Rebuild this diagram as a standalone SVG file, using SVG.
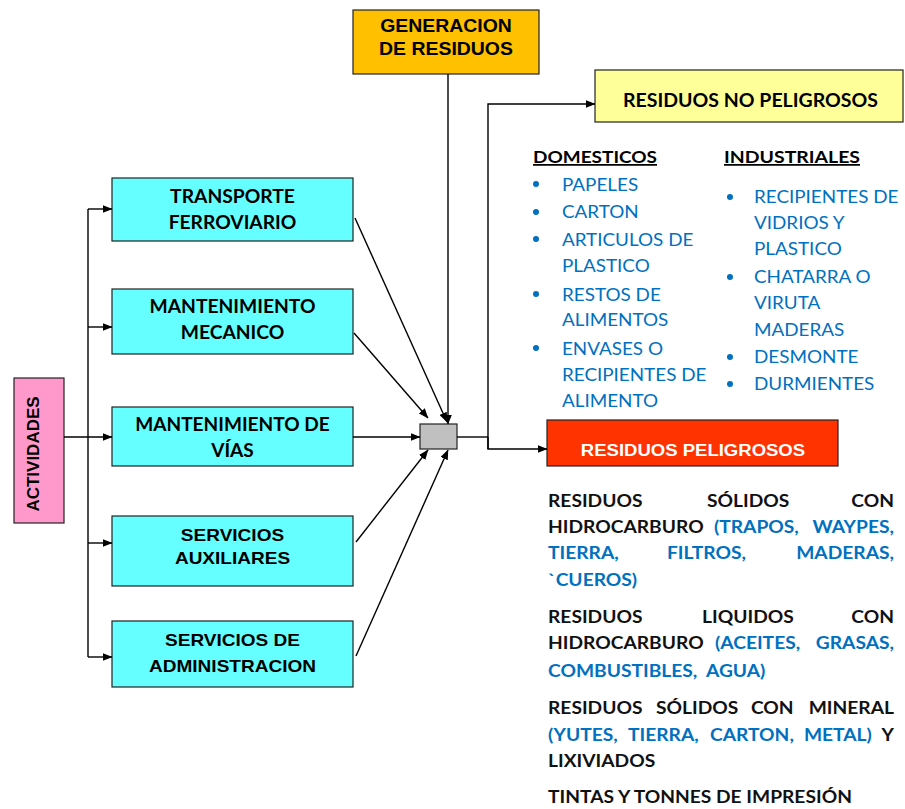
<svg xmlns="http://www.w3.org/2000/svg" width="905" height="809" viewBox="0 0 905 809">
<style>
  .box{stroke:#222;stroke-width:1.2}
  .cyan{fill:#66FFFF}
  .ln{stroke:#000;stroke-width:1.4;fill:none}
  .arr{marker-end:url(#ah)}
  .cal{font-family:Lato,"Open Sans","Liberation Sans",sans-serif}
  .ari{font-family:"Liberation Sans",Arial,sans-serif;font-weight:bold}
  .b{font-weight:bold}
  .blue{fill:#0070C0}
  .blk{fill:#111}
  .ct{text-anchor:middle}
  .end{text-anchor:end}
  .p{font-family:Lato,"Open Sans","Liberation Sans",sans-serif;font-weight:bold;font-size:17px}
  .li{font-family:Lato,"Open Sans","Liberation Sans",sans-serif;font-size:17px;fill:#0070C0}
</style>
<defs>
  <marker id="ah" markerWidth="10" markerHeight="8" refX="9.5" refY="4" orient="auto" markerUnits="userSpaceOnUse">
    <path d="M0,0 L10,4 L0,8 z" fill="#000"/>
  </marker>
</defs>

<g id="generacion">
  <rect class="box" x="353" y="10" width="186" height="64" fill="#FFC000"/>
  <g transform="matrix(1.08 0 0 1 -35.68 0)">
    <text class="ari ct" x="446" y="32" font-size="18">GENERACION</text>
    <text class="ari ct" x="446" y="55" font-size="18">DE RESIDUOS</text>
  </g>
</g>

<g id="actividades">
  <rect class="box" x="14" y="378" width="50" height="145" fill="#FF99CC"/>
  <text class="ari ct" font-size="17" transform="translate(39,454) rotate(-90)">ACTIVIDADES</text>
</g>

<g id="transporte">
  <rect class="box cyan" x="112" y="178" width="241" height="63"/>
  <g transform="matrix(1.07 0 0 1 -16.275 0)">
    <text class="cal b ct" x="232.5" y="203" font-size="18">TRANSPORTE</text>
    <text class="cal b ct" x="232.5" y="229" font-size="18">FERROVIARIO</text>
  </g>
</g>

<g id="mecanico">
  <rect class="box cyan" x="112" y="289" width="241" height="65"/>
  <g transform="matrix(1.07 0 0 1 -16.275 0)">
    <text class="cal b ct" x="232.5" y="313" font-size="18">MANTENIMIENTO</text>
    <text class="cal b ct" x="232.5" y="339" font-size="18">MECANICO</text>
  </g>
</g>

<g id="vias">
  <rect class="box cyan" x="112" y="407" width="241" height="59"/>
  <g transform="matrix(1.06 0 0 1 -13.95 0)">
    <text class="cal b ct" x="232.5" y="431" font-size="18">MANTENIMIENTO DE</text>
    <text class="cal b ct" x="232.5" y="457" font-size="18">VÍAS</text>
  </g>
</g>

<g id="auxiliares">
  <rect class="box cyan" x="112" y="516" width="241" height="70"/>
  <g transform="matrix(1.12 0 0 1 -27.9 0)">
    <text class="ari ct" x="232.5" y="541" font-size="17">SERVICIOS</text>
    <text class="ari ct" x="232.5" y="564" font-size="17">AUXILIARES</text>
  </g>
</g>

<g id="administracion">
  <rect class="box cyan" x="112" y="621" width="241" height="66"/>
  <g transform="matrix(1.12 0 0 1 -27.9 0)">
    <text class="ari ct" x="232.5" y="646" font-size="17">SERVICIOS DE</text>
    <text class="ari ct" x="232.5" y="672" font-size="17">ADMINISTRACION</text>
  </g>
</g>

<g id="nodo">
  <rect class="box" x="420" y="424" width="37" height="25" fill="#C0C0C0"/>
</g>

<g id="no-peligrosos">
  <rect class="box" x="595" y="70" width="308" height="52" fill="#FFFF99"/>
  <text class="cal b" x="623" y="107" font-size="18" textLength="255" lengthAdjust="spacingAndGlyphs">RESIDUOS NO PELIGROSOS</text>
</g>

<g id="peligrosos">
  <rect class="box" x="547" y="420" width="291" height="46" fill="#FF3300"/>
  <g transform="matrix(1.09 0 0 1 -62.37 0)">
    <text class="ari ct" x="693" y="456" font-size="17" fill="#fff">RESIDUOS PELIGROSOS</text>
  </g>
</g>

<g id="connectors">
  <line class="ln" x1="88" y1="209" x2="88" y2="657"/>
  <line class="ln arr" x1="88" y1="209" x2="112" y2="209"/>
  <line class="ln arr" x1="88" y1="327" x2="112" y2="327"/>
  <line class="ln arr" x1="64" y1="437" x2="112" y2="437"/>
  <line class="ln arr" x1="88" y1="543" x2="112" y2="543"/>
  <line class="ln arr" x1="88" y1="657" x2="112" y2="657"/>

  <line class="ln arr" x1="355" y1="218" x2="447" y2="422"/>
  <line class="ln arr" x1="354" y1="333" x2="428" y2="418"/>
  <line class="ln arr" x1="353" y1="437" x2="420" y2="437"/>
  <line class="ln arr" x1="356" y1="542" x2="428" y2="450"/>
  <line class="ln arr" x1="356" y1="656" x2="448" y2="450"/>
  <line class="ln arr" x1="448" y1="74" x2="448" y2="424"/>

  <polyline class="ln" points="457,437 488,437"/>
  <polyline class="ln arr" points="488,449 488,104 595,104"/>
  <polyline class="ln arr" points="488,437 488,449 547,449"/>
</g>

<g id="domesticos">
  <text class="cal b" x="533" y="163" font-size="17.5" text-decoration="underline" textLength="124" lengthAdjust="spacingAndGlyphs">DOMESTICOS</text>
  <g class="blue">
    <circle cx="536" cy="184" r="3"/>
    <circle cx="536" cy="212" r="3"/>
    <circle cx="536" cy="239" r="3"/>
    <circle cx="536" cy="294" r="3"/>
    <circle cx="536" cy="348" r="3"/>
  </g>
  <g transform="matrix(1.11 0 0 1 -61.82 0)">
    <text class="li" x="562" y="191">PAPELES</text>
    <text class="li" x="562" y="218">CARTON</text>
    <text class="li" x="562" y="246">ARTICULOS DE</text>
    <text class="li" x="562" y="272">PLASTICO</text>
    <text class="li" x="562" y="301">RESTOS DE</text>
    <text class="li" x="562" y="326">ALIMENTOS</text>
    <text class="li" x="562" y="355">ENVASES O</text>
    <text class="li" x="562" y="381">RECIPIENTES DE</text>
    <text class="li" x="562" y="407">ALIMENTO</text>
  </g>
</g>

<g id="industriales">
  <text class="cal b" x="724" y="163" font-size="17.5" text-decoration="underline" textLength="136" lengthAdjust="spacingAndGlyphs">INDUSTRIALES</text>
  <g class="blue">
    <circle cx="730" cy="197" r="3"/>
    <circle cx="730" cy="277" r="3"/>
    <circle cx="730" cy="357" r="3"/>
    <circle cx="730" cy="384" r="3"/>
  </g>
  <g transform="matrix(1.11 0 0 1 -82.94 0)">
    <text class="li" x="754" y="203">RECIPIENTES DE</text>
    <text class="li" x="754" y="229">VIDRIOS Y</text>
    <text class="li" x="754" y="255">PLASTICO</text>
    <text class="li" x="754" y="283">CHATARRA O</text>
    <text class="li" x="754" y="309">VIRUTA</text>
    <text class="li" x="754" y="336">MADERAS</text>
    <text class="li" x="754" y="363">DESMONTE</text>
    <text class="li" x="754" y="390">DURMIENTES</text>
  </g>
</g>

<g id="peligrosos-texto" class="p" transform="matrix(1.13 0 0 1 -71.24 0)">
  <text class="blk" x="548" y="507">RESIDUOS</text>
  <text class="blk" x="688.7" y="507">SÓLIDOS</text>
  <text class="blk end" x="854.2" y="507">CON</text>
  <text class="blk" x="548" y="533">HIDROCARBURO</text>
  <text class="blue" x="694.9" y="533">(TRAPOS,</text>
  <text class="blue end" x="854.2" y="533">WAYPES,</text>
  <text class="blue" x="548" y="559">TIERRA,</text>
  <text class="blue" x="653.3" y="559">FILTROS,</text>
  <text class="blue end" x="854.2" y="559">MADERAS,</text>
  <text class="blue" x="548" y="586">`CUEROS)</text>

  <text class="blk" x="548" y="623">RESIDUOS</text>
  <text class="blk" x="684.3" y="623">LIQUIDOS</text>
  <text class="blk end" x="854.2" y="623">CON</text>
  <text class="blk" x="548" y="649">HIDROCARBURO</text>
  <text class="blue" x="695.8" y="649">(ACEITES,</text>
  <text class="blue end" x="854.2" y="649">GRASAS,</text>
  <text class="blue" x="548" y="677">COMBUSTIBLES,</text>
  <text class="blue" x="687.8" y="677">AGUA)</text>

  <text class="blk" x="548" y="714">RESIDUOS</text>
  <text class="blk" x="643.6" y="714">SÓLIDOS</text>
  <text class="blk" x="727.6" y="714">CON</text>
  <text class="blk end" x="854.2" y="714">MINERAL</text>
  <text class="blue" x="548" y="741">(YUTES,</text>
  <text class="blue" x="618.8" y="741">TIERRA,</text>
  <text class="blue" x="691.4" y="741">CARTON,</text>
  <text class="blue" x="774.5" y="741">METAL)</text>
  <text class="blk end" x="854.2" y="741">Y</text>
  <text class="blk" x="548" y="767">LIXIVIADOS</text>

  <text class="blk" x="548" y="803">TINTAS Y TONNES DE IMPRESIÓN</text>
</g>
</svg>
